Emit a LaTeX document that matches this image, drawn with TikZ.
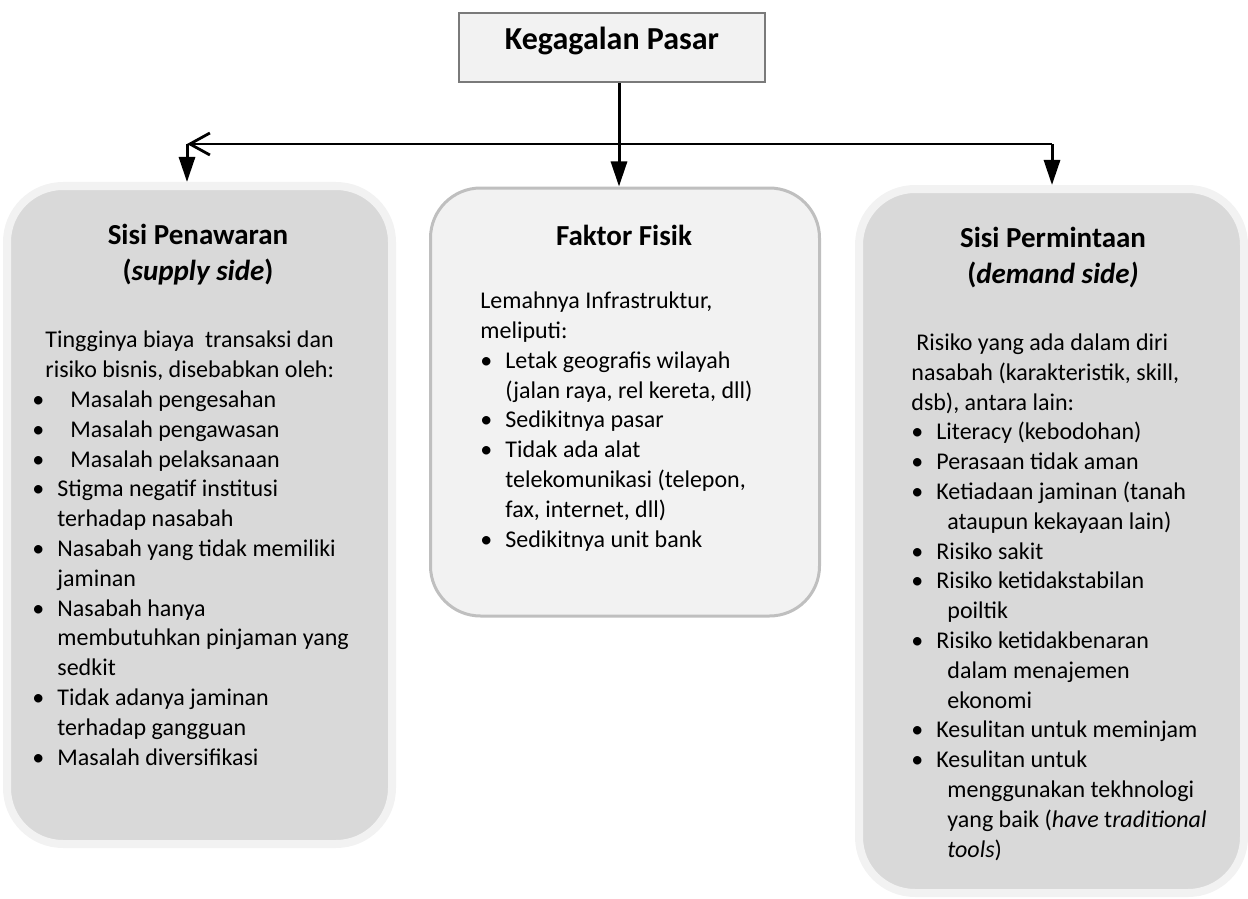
\documentclass[tikz,border=0pt]{standalone}
\usepackage{fontspec}
\setmainfont{Carlito}
\usepackage{tikz}
\usetikzlibrary{arrows.meta, positioning, calc}
\definecolor{sidefill}{HTML}{D9D9D9}
\definecolor{lightrim}{HTML}{F2F2F2}
\definecolor{midrim}{HTML}{BFBFBF}
\definecolor{headrim}{HTML}{7A7A7A}
\newcommand{\itm}[1]{\makebox[#1][l]{\textbullet}}
\newcommand{\hang}[1]{\hspace*{#1}}

\begin{document}
\begin{tikzpicture}[x=0.5pt, y=-0.5pt,
  sidebox/.style={draw=lightrim, line width=4pt, fill=sidefill, rounded corners=28pt,
    minimum width=192.5pt, inner sep=0pt},
  midbox/.style={draw=midrim, line width=1.5pt, fill=lightrim, rounded corners=25pt,
    minimum width=194.5pt, minimum height=214pt, inner sep=0pt},
  headbox/.style={draw=headrim, line width=1.25pt, fill=lightrim, minimum width=153pt,
    minimum height=34.5pt, font=\bfseries\fontsize{16pt}{19pt}\selectfont,
    text height=12pt, text depth=9.5pt},
  titletext/.style={align=center, inner sep=0pt, font=\bfseries\fontsize{14.5pt}{18pt}\selectfont},
  bodytext/.style={align=left, inner sep=0pt, font=\fontsize{12pt}{14.9pt}\selectfont},
  arr/.style={line width=1.5pt, -{Triangle[length=12.5pt, width=8pt]}},
  barb/.style={line width=1.4pt, -{Straight Barb[length=10pt, width=11pt]}}]
\useasboundingbox (0,0) rectangle (1248,899);

\node[headbox] (head) at (612,47.5) {Kegagalan Pasar};
\node[sidebox, minimum height=329pt] (supply) at (199.5,515) {};
\node[midbox] (mid) at (625,402) {};
\node[sidebox, minimum height=352pt] (demand) at (1051.5,541) {};

\coordinate (hub) at (619,144);
\coordinate (lfork) at (187,144);
\coordinate (rfork) at (1052,144);
\draw[arr] (head.south -| hub) -- (hub |- mid.north);
\draw[barb] (rfork) -- (lfork);
\draw[arr] (lfork) -- (lfork |- supply.north);
\draw[arr] (rfork) -- (rfork |- demand.north);

\node[titletext, anchor=base] (supplytitle) at (198,280) {Sisi Penawaran\\(\textit{supply side})};
\node[bodytext, anchor=base west] (supplytext) at (32,765) {%
\hang{6.5pt}Tingginya biaya\ \ transaksi dan\\
\hang{6.5pt}risiko bisnis, disebabkan oleh:\\
\itm{19pt}Masalah pengesahan\\
\itm{19pt}Masalah pengawasan\\
\itm{19pt}Masalah pelaksanaan\\
\itm{12.5pt}Stigma negatif institusi\\
\hang{12.5pt}terhadap nasabah\\
\itm{12.5pt}Nasabah yang tidak memiliki\\
\hang{12.5pt}jaminan\\
\itm{12.5pt}Nasabah hanya\\
\hang{12.5pt}membutuhkan pinjaman yang\\
\hang{12.5pt}sedkit\\
\itm{12.5pt}Tidak adanya jaminan\\
\hang{12.5pt}terhadap gangguan\\
\itm{12.5pt}Masalah diversifikasi};

\node[titletext, anchor=base] (midtitle) at (624,245) {Faktor Fisik};
\node[bodytext, anchor=base west] (midtext) at (480,547) {%
Lemahnya Infrastruktur,\\
meliputi:\\
\itm{12.5pt}Letak geografis wilayah\\
\hang{12.5pt}(jalan raya, rel kereta, dll)\\
\itm{12.5pt}Sedikitnya pasar\\
\itm{12.5pt}Tidak ada alat\\
\hang{12.5pt}telekomunikasi (telepon,\\
\hang{12.5pt}fax, internet, dll)\\
\itm{12.5pt}Sedikitnya unit bank};

\node[titletext, anchor=base] (demandtitle) at (1053,283) {Sisi Permintaan\\(\textit{demand side)}};
\node[bodytext, anchor=base west] (demandtext) at (911,857) {%
\hang{2.5pt}Risiko yang ada dalam diri\\
nasabah (karakteristik, skill,\\
dsb), antara lain:\\
\itm{12.5pt}Literacy (kebodohan)\\
\itm{12.5pt}Perasaan tidak aman\\
\itm{12.5pt}Ketiadaan jaminan (tanah\\
\hang{18pt}ataupun kekayaan lain)\\
\itm{12.5pt}Risiko sakit\\
\itm{12.5pt}Risiko ketidakstabilan\\
\hang{18pt}poiltik\\
\itm{12.5pt}Risiko ketidakbenaran\\
\hang{18pt}dalam menajemen\\
\hang{18pt}ekonomi\\
\itm{12.5pt}Kesulitan untuk meminjam\\
\itm{12.5pt}Kesulitan untuk\\
\hang{18pt}menggunakan tekhnologi\\
\hang{18pt}yang baik (\textit{have} t\textit{raditional}\\
\hang{18pt}\textit{tools})};
\end{tikzpicture}
\end{document}
